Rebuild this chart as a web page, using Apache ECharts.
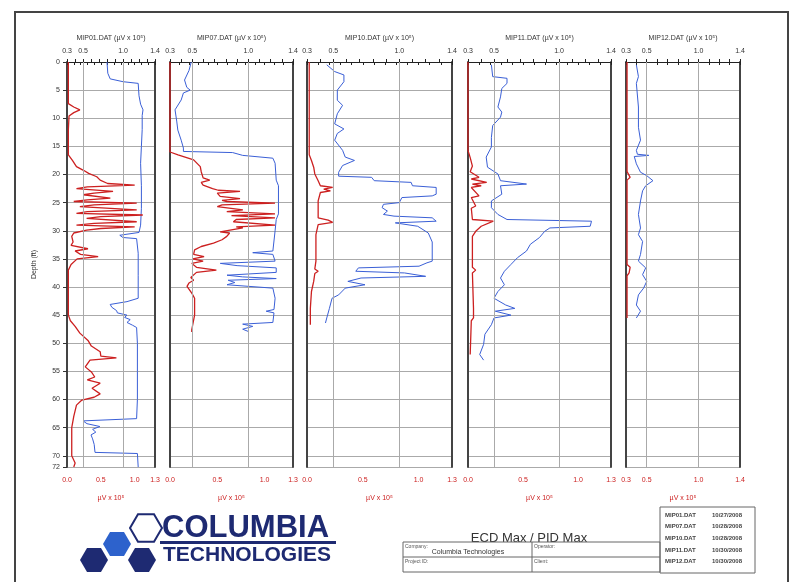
<!DOCTYPE html>
<html>
<head>
<meta charset="utf-8">
<script src="https://cdn.jsdelivr.net/npm/echarts@6/dist/echarts.min.js"></script>
<style>
  html, body { margin: 0; padding: 0; background: #fff; }
  #chart { width: 793px; height: 582px; }
</style>
</head>
<body>
<div id="chart"></div>
<script>
// probe names and axis ticks
const probeNames = ['MIP01.DAT', 'MIP07.DAT', 'MIP10.DAT', 'MIP11.DAT', 'MIP12.DAT']
const probeDates = ['10/27/2008', '10/28/2008', '10/28/2008', '10/30/2008', '10/30/2008']
const topRange = [0.3, 1.4]
const topTicks = [0.3, 0.4, 0.5, 0.6, 0.7, 0.8, 0.9, 1.0, 1.1, 1.2, 1.3, 1.4]
const topLabels = [0.3, 0.5, 1.0, 1.4]
const bottomRanges = [[0, 1.3], [0, 1.3], [0, 1.3], [0, 1.3], [0.3, 1.4]]
const bottomTicks = [0, 0.1, 0.2, 0.3, 0.4, 0.5, 0.6, 0.7, 0.8, 0.9, 1.0, 1.1, 1.2, 1.3, 1.4]
const bottomLabels = [
  [0, 0.5, 1.0, 1.3],
  [0, 0.5, 1.0, 1.3],
  [0, 0.5, 1.0, 1.3],
  [0, 0.5, 1.0, 1.3],
  [0.3, 0.5, 1.0, 1.4]
]
const gridValues = [0.5, 1.0]

// [depth ft, value] — blue trace read on the top scale
const ecd01 = [[0, 0.80], [2, 0.81], [3, 0.84], [3.5, 1.0], [3.8, 1.19], [6, 1.2], [7.5, 1.22], [8.5, 1.25], [9.5, 1.24], [12, 1.24], [15, 1.23], [18, 1.22], [22, 1.23], [26, 1.23], [29, 1.22], [30.3, 1.2], [30.8, 0.96], [31.2, 1.0], [31.4, 1.17], [34, 1.19], [38, 1.19], [42, 1.19], [42.6, 1.05], [43.1, 0.84], [43.6, 0.86], [44.2, 0.92], [44.6, 0.93], [45, 1.05], [45.4, 1.02], [45.8, 1.09], [46.3, 1.05], [46.8, 1.12], [47.2, 1.17], [50, 1.18], [55, 1.18], [60, 1.18], [63.4, 1.17], [63.8, 0.5], [64.3, 0.55], [64.8, 0.71], [65.3, 0.62], [65.8, 0.66], [66.3, 0.6], [67, 0.62], [68, 0.64], [69.4, 0.65], [69.6, 1.18], [72, 1.19]]
const ecd07 = [[0, 0.49], [1.5, 0.47], [3.2, 0.43], [4.5, 0.45], [5, 0.48], [5.5, 0.42], [6.75, 0.4], [8.5, 0.345], [10.5, 0.36], [12.1, 0.37], [13.9, 0.40], [15.3, 0.42], [15.9, 0.42], [16.1, 0.86], [16.6, 0.95], [17.1, 1.22], [18, 1.24], [21, 1.25], [22, 1.27], [25, 1.27], [27, 1.27], [28, 1.25], [30, 1.24], [33.6, 1.22], [33.9, 1.04], [34.2, 1.22], [35.4, 1.24], [35.8, 0.75], [36.2, 0.9], [36.6, 1.25], [37.4, 1.25], [37.9, 0.81], [38.2, 0.95], [38.5, 1.25], [38.8, 0.82], [39.2, 0.88], [39.6, 0.81], [40.2, 1.22], [42, 1.24], [44, 1.23], [44.3, 1.16], [44.6, 1.23], [46.3, 1.22], [46.6, 0.95], [47, 1.04], [47.5, 0.95], [47.9, 1.0]]
const ecd10 = [[0.5, 0.45], [1.7, 0.51], [2.3, 0.58], [3.5, 0.58], [5.0, 0.53], [6.8, 0.53], [7.7, 0.57], [9.2, 0.53], [11, 0.51], [11.9, 0.58], [12.7, 0.53], [13.9, 0.51], [15.7, 0.57], [16.9, 0.59], [17.5, 0.66], [18.4, 0.57], [19.6, 0.54], [20.3, 0.54], [20.5, 0.79], [21.1, 0.81], [21.4, 1.09], [22, 1.10], [22.3, 1.28], [23.5, 1.28], [23.8, 1.25], [24.1, 1.02], [25, 1.0], [25.3, 0.88], [25.9, 0.87], [26.5, 0.91], [27.1, 0.88], [27.4, 0.96], [27.7, 1.25], [28.3, 1.28], [28.6, 0.97], [29.2, 1.14], [29.8, 1.18], [30.4, 1.22], [32, 1.25], [35.4, 1.25], [35.7, 1.21], [36.3, 1.15], [36.6, 0.69], [37.2, 0.67], [37.5, 1.04], [38.1, 1.2], [38.4, 0.71], [39, 0.61], [39.6, 0.74], [40.2, 0.59], [41.4, 0.54], [42, 0.49], [43.8, 0.47], [45.5, 0.45], [46.4, 0.44]]
const ecd11 = [[0.5, 0.48], [2.6, 0.49], [2.9, 0.6], [3.8, 0.6], [4.7, 0.56], [6.2, 0.55], [8, 0.53], [8.9, 0.56], [9.8, 0.55], [11.3, 0.49], [13.4, 0.48], [15.1, 0.48], [16.9, 0.44], [18.7, 0.45], [19.9, 0.53], [21.1, 0.55], [21.7, 0.75], [22, 0.55], [22.3, 0.54], [23.5, 0.56], [24.7, 0.48], [25.9, 0.48], [27.1, 0.53], [28, 0.6], [28.3, 1.25], [28.6, 1.26], [29.2, 1.24], [29.5, 0.93], [30.1, 0.89], [31.2, 0.85], [32.4, 0.78], [33.6, 0.75], [34.8, 0.68], [36, 0.63], [37.2, 0.58], [38.4, 0.55], [39.6, 0.58], [40.8, 0.53], [42, 0.5], [43.2, 0.59], [43.8, 0.66], [44.3, 0.51], [45, 0.63], [45.5, 0.5], [46.7, 0.48], [48.4, 0.43], [50.2, 0.42], [52, 0.39], [53, 0.42]]
const ecd12 = [[0.5, 0.40], [2.6, 0.42], [3.8, 0.40], [8, 0.42], [11.6, 0.42], [13.9, 0.44], [15.7, 0.40], [16.4, 0.41], [16.6, 0.52], [16.8, 0.38], [18.1, 0.4], [19.6, 0.44], [20.2, 0.5], [21.1, 0.56], [22, 0.49], [22.9, 0.46], [24.7, 0.44], [27.1, 0.42], [29.5, 0.44], [30.7, 0.42], [31.9, 0.46], [34.2, 0.44], [35.4, 0.42], [36.6, 0.49], [37.8, 0.46], [39, 0.5], [40.2, 0.47], [41.4, 0.42], [43.2, 0.4], [44.3, 0.44], [45.5, 0.4]]

// [depth ft, value] — red trace read on the bottom scale
const pid01 = [[0, 0.02], [7.4, 0.02], [8, 0.1], [8.5, 0.19], [9, 0.1], [9.6, 0.03], [12, 0.02], [16.5, 0.02], [17.5, 0.08], [18.6, 0.14], [19.3, 0.25], [19.8, 0.32], [20.4, 0.44], [21, 0.49], [21.6, 0.6], [21.9, 1.0], [22.2, 0.3], [22.5, 0.14], [23, 0.68], [23.3, 0.4], [23.6, 0.24], [24.2, 0.64], [24.5, 0.3], [24.8, 0.1], [25.1, 1.03], [25.4, 0.4], [25.7, 0.19], [26.3, 1.03], [26.6, 0.3], [26.9, 0.14], [27.2, 1.12], [27.5, 0.5], [27.8, 0.29], [28.4, 1.03], [28.7, 0.4], [29, 0.14], [29.3, 1.0], [29.6, 0.5], [29.9, 0.29], [30.4, 0.1], [31, 0.07], [32, 0.09], [32.6, 0.06], [33.2, 0.31], [33.6, 0.12], [34.2, 0.2], [34.6, 0.46], [35, 0.15], [36, 0.06], [37, 0.02], [45, 0.02], [46, 0.05], [47, 0.12], [48.2, 0.19], [49.5, 0.31], [50.5, 0.36], [51.5, 0.49], [52.3, 0.5], [52.6, 0.73], [53, 0.34], [54.2, 0.27], [55.1, 0.36], [56, 0.41], [56.5, 0.3], [57.1, 0.49], [58, 0.37], [59, 0.49], [59.6, 0.4], [60.1, 0.22], [61, 0.14], [63, 0.1], [65, 0.07], [70, 0.07], [71.3, 0.12], [72, 0.1]]
const pid07 = [[0, 0.0], [16, 0.0], [16.5, 0.085], [17.4, 0.25], [18.6, 0.32], [19.5, 0.33], [20.6, 0.35], [21, 0.42], [21.4, 0.33], [21.9, 0.35], [22.5, 0.45], [22.8, 0.51], [23, 0.74], [23.3, 0.5], [23.9, 0.53], [24.3, 0.74], [24.6, 0.55], [24.8, 0.6], [25.1, 1.11], [25.4, 0.55], [25.7, 0.5], [26.3, 0.77], [26.6, 0.6], [27.0, 1.11], [27.3, 0.65], [27.7, 1.11], [28.0, 0.7], [28.4, 0.67], [29, 1.11], [29.3, 0.7], [29.5, 0.77], [30.2, 0.53], [30.4, 0.63], [31, 0.6], [31.6, 0.55], [32.2, 0.46], [32.8, 0.33], [33.4, 0.26], [34.2, 0.25], [34.6, 0.36], [35, 0.24], [35.4, 0.35], [35.8, 0.23], [36.5, 0.28], [37, 0.49], [37.4, 0.28], [38.3, 0.22], [38.8, 0.25], [39.3, 0.2], [39.9, 0.18], [41.1, 0.23], [42, 0.26], [45, 0.26], [45.3, 0.25], [47.6, 0.23], [48, 0.23]]
const pid10 = [[0, 0.02], [16.5, 0.02], [17.5, 0.04], [18.7, 0.06], [19.9, 0.07], [21.1, 0.1], [22, 0.12], [22.3, 0.23], [22.6, 0.15], [22.9, 0.21], [23.2, 0.12], [23.5, 0.12], [24.7, 0.1], [27.7, 0.1], [28.1, 0.19], [28.5, 0.23], [28.9, 0.1], [30.7, 0.08], [35.4, 0.08], [36.8, 0.07], [37.2, 0.1], [37.6, 0.07], [39, 0.06], [40.8, 0.04], [43.8, 0.03], [46.7, 0.03]]
const pid11 = [[0, 0.0], [15.7, 0.0], [17, 0.02], [18.5, 0.04], [19.5, 0.02], [20.5, 0.1], [20.8, 0.03], [21.4, 0.17], [21.7, 0.04], [22, 0.12], [22.3, 0.03], [23.8, 0.1], [24.1, 0.03], [25.6, 0.07], [26, 0.03], [28, 0.04], [28.3, 0.23], [28.6, 0.22], [29.2, 0.12], [30.1, 0.07], [31, 0.04], [36.5, 0.04], [37, 0.07], [37.5, 0.04], [43.8, 0.05], [45.5, 0.05], [46, 0.03], [52, 0.02]]
const pid12 = [[0, 0.31], [19.5, 0.31], [20.5, 0.34], [21, 0.31], [36, 0.31], [36.5, 0.34], [37.5, 0.33], [38, 0.31], [45.5, 0.31]]

const ecdData = [ecd01, ecd07, ecd10, ecd11, ecd12]
const pidData = [pid01, pid07, pid10, pid11, pid12]

const panelBox = [
  { left: 67, width: 88 },
  { left: 170, width: 123 },
  { left: 307, width: 145 },
  { left: 468, width: 143 },
  { left: 626, width: 114 }
]

const FONT = 'Liberation Sans'
const BLUE = '#3a5fd6'
const RED = '#cc2020'
const NAVY = '#1e2a72'

const grids = []
const xAxes = []
const yAxes = []
const series = []

panelBox.forEach((p, i) => {
  const br = bottomRanges[i]
  grids.push({ left: p.left, width: p.width, top: 62, height: 405 })
  xAxes.push({
    type: 'value', gridIndex: i, position: 'top', min: topRange[0], max: topRange[1],
    name: probeNames[i] + ' (µV x 10⁵)', nameLocation: 'middle', nameGap: 20,
    nameTextStyle: { fontSize: 7, color: '#333', fontFamily: FONT },
    axisLine: { lineStyle: { color: '#222', width: 1 } },
    axisTick: { customValues: topTicks, length: 3, lineStyle: { color: '#222' } },
    axisLabel: { customValues: topLabels, fontSize: 7, color: '#333', margin: 7, fontFamily: FONT, formatter: v => v.toFixed(1) },
    splitLine: { show: false }
  })
  xAxes.push({
    type: 'value', gridIndex: i, position: 'bottom', min: br[0], max: br[1],
    name: 'µV x 10⁵', nameLocation: 'middle', nameGap: 28,
    nameTextStyle: { fontSize: 7, color: RED, fontFamily: FONT },
    axisLine: { lineStyle: { color: '#222', width: 1 } },
    axisTick: { customValues: bottomTicks.filter(v => v >= br[0] - 1e-9 && v <= br[1] + 1e-9), length: 3, lineStyle: { color: '#222' } },
    axisLabel: { customValues: bottomLabels[i], fontSize: 7, color: RED, margin: 10, fontFamily: FONT, formatter: v => v.toFixed(1) },
    splitLine: { show: false }
  })
  yAxes.push({
    type: 'value', gridIndex: i, inverse: true, min: 0, max: 72, interval: 5, position: 'left',
    name: i === 0 ? 'Depth (ft)' : '', nameLocation: 'middle', nameGap: 29, nameRotate: 90,
    nameTextStyle: { fontSize: 7, color: '#333', fontFamily: FONT },
    axisLine: { show: true, lineStyle: { color: '#444', width: 2 } },
    axisTick: { show: i === 0, length: 4, lineStyle: { color: '#333' } },
    axisLabel: { show: i === 0, fontSize: 7, color: '#333', margin: 7, fontFamily: FONT },
    splitLine: { show: true, lineStyle: { color: '#aaa', width: 1 } }
  })
  yAxes.push({
    type: 'value', gridIndex: i, inverse: true, min: 0, max: 72, interval: 5, position: 'right',
    axisLine: { show: true, lineStyle: { color: '#444', width: 2 } },
    axisTick: { show: false }, axisLabel: { show: false }, splitLine: { show: false }
  })
  series.push({
    type: 'line', xAxisIndex: 2 * i, yAxisIndex: 2 * i,
    data: ecdData[i].map(d => [d[1], d[0]]),
    symbol: 'none', lineStyle: { color: BLUE, width: 1 }, itemStyle: { color: BLUE },
    markLine: {
      silent: true, symbol: 'none', label: { show: false },
      lineStyle: { color: '#aaa', width: 1, type: 'solid' },
      data: gridValues.map(v => ({ xAxis: v }))
    },
    z: 3
  })
  series.push({
    type: 'line', xAxisIndex: 2 * i + 1, yAxisIndex: 2 * i,
    data: pidData[i].map(d => [d[1], d[0]]),
    symbol: 'none', lineStyle: { color: RED, width: 1.3 }, itemStyle: { color: RED },
    z: 4
  })
})

function hexPoints (cx, cy, r) {
  const pts = []
  for (let k = 0; k < 6; k++) {
    const a = Math.PI / 3 * k
    pts.push([cx + r * Math.cos(a), cy + r * Math.sin(a)])
  }
  return pts
}

const graphics = [
  { type: 'rect', shape: { x: 15, y: 12, width: 773, height: 600 }, style: { fill: 'none', stroke: '#444', lineWidth: 2 }, z: -1 },
  // logo
  { type: 'polygon', shape: { points: hexPoints(146, 528, 16) }, style: { fill: '#fff', stroke: NAVY, lineWidth: 2 } },
  { type: 'polygon', shape: { points: hexPoints(117, 544, 14) }, style: { fill: '#2d62cc' } },
  { type: 'polygon', shape: { points: hexPoints(94, 560, 14) }, style: { fill: NAVY } },
  { type: 'polygon', shape: { points: hexPoints(142, 560, 14) }, style: { fill: NAVY } },
  { type: 'text', left: 162, top: 513, style: { text: 'COLUMBIA', font: 'bold 31px ' + FONT, fill: NAVY } },
  { type: 'rect', shape: { x: 160, y: 541, width: 176, height: 3 }, style: { fill: NAVY } },
  { type: 'text', left: 163, top: 545, style: { text: 'TECHNOLOGIES', font: 'bold 21px ' + FONT, fill: NAVY } },
  // title block
  { type: 'text', x: 529, y: 538, style: { text: 'ECD Max / PID Max', font: '13px ' + FONT, fill: '#333', align: 'center', verticalAlign: 'middle' } },
  { type: 'rect', shape: { x: 403, y: 542, width: 257, height: 30 }, style: { fill: 'none', stroke: '#666', lineWidth: 1 } },
  { type: 'line', shape: { x1: 403, y1: 557, x2: 660, y2: 557 }, style: { stroke: '#666', lineWidth: 1 } },
  { type: 'line', shape: { x1: 532, y1: 542, x2: 532, y2: 572 }, style: { stroke: '#666', lineWidth: 1 } },
  { type: 'text', x: 405, y: 544, style: { text: 'Company:', font: '5px ' + FONT, fill: '#555' } },
  { type: 'text', x: 468, y: 552, style: { text: 'Columbia Technologies', font: '7px ' + FONT, fill: '#333', align: 'center', verticalAlign: 'middle' } },
  { type: 'text', x: 534, y: 544, style: { text: 'Operator:', font: '5px ' + FONT, fill: '#555' } },
  { type: 'text', x: 405, y: 559, style: { text: 'Project ID:', font: '5px ' + FONT, fill: '#555' } },
  { type: 'text', x: 534, y: 559, style: { text: 'Client:', font: '5px ' + FONT, fill: '#555' } },
  { type: 'rect', shape: { x: 660, y: 507, width: 95, height: 66 }, style: { fill: 'none', stroke: '#666', lineWidth: 1 } }
]
probeNames.forEach((n, i) => {
  const y = 515 + i * 11.7
  graphics.push({ type: 'text', x: 665, y: y, style: { text: n, font: 'bold 6px ' + FONT, fill: '#444', verticalAlign: 'middle' } })
  graphics.push({ type: 'text', x: 712, y: y, style: { text: probeDates[i], font: 'bold 6px ' + FONT, fill: '#444', verticalAlign: 'middle' } })
})

const chart = echarts.init(document.getElementById('chart'))
chart.setOption({
  animation: false,
  backgroundColor: '#fff',
  grid: grids,
  xAxis: xAxes,
  yAxis: yAxes,
  series: series,
  graphic: graphics
})
</script>
</body>
</html>
